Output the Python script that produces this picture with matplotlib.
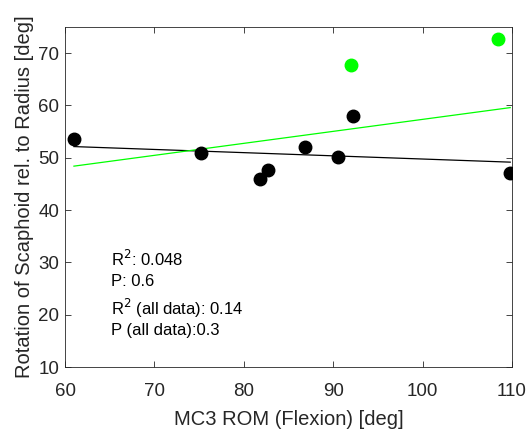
import matplotlib
matplotlib.use("Agg")
from matplotlib import pyplot as plt
import numpy as np

plt.rcParams['font.family'] = ['Liberation Sans', 'DejaVu Sans']

# datos
rom_x = np.array([61.0, 75.25, 81.8, 82.7, 86.8, 90.5, 92.2, 109.8])
rot_y = np.array([53.5, 51.0, 45.9, 47.6, 52.1, 50.2, 58.0, 47.1])
outlier_x = np.array([92.0, 108.4])
outlier_y = np.array([67.8, 72.8])

stats_text = ["R$^2$: 0.048", "P: 0.6", "R$^2$ (all data): 0.14", "P (all data):0.3"]

gray = '#262626'

fig = plt.figure(figsize=(5.27, 4.33), dpi=100)
ax = fig.add_axes([65/527, 1 - 367/433, (512 - 65)/527, (367 - 27)/433])

# ajuste sin outliers (negro) y con todos los datos (verde)
p = np.polyfit(rom_x, rot_y, 1)
all_x = np.concatenate([rom_x, outlier_x])
all_y = np.concatenate([rot_y, outlier_y])
p_all = np.polyfit(all_x, all_y, 1)
xx = np.array([rom_x.min(), rom_x.max()])
ax.plot(xx, np.polyval(p, xx), color='black', lw=0.9, zorder=2)
ax.plot(xx, np.polyval(p_all, xx), color='#00ff00', lw=0.9, zorder=2)

ax.plot(rom_x, rot_y, 'o', color='black', ms=9, zorder=3)
ax.plot(outlier_x, outlier_y, 'o', color='#00ff00', ms=9, zorder=3)

ax.set_xlim(60, 110)
ax.set_ylim(10, 75)
ax.set_xticks(np.arange(60, 111, 10))
ax.set_yticks(np.arange(10, 71, 10))
ax.tick_params(direction='in', top=True, right=True, length=4, width=0.6,
               colors=gray, labelsize=13.5, labelcolor=gray)
ax.tick_params(axis='x', pad=11.5)
ax.tick_params(axis='y', pad=4)
for s in ax.spines.values():
    s.set_color(gray)
    s.set_linewidth(0.6)

ax.set_xlabel('MC3 ROM (Flexion) [deg]', fontsize=14.5, color=gray, labelpad=7)
ax.set_ylabel('Rotation of Scaphoid rel. to Radius [deg]', fontsize=14.5, color=gray, labelpad=3)

ys = [259, 281, 308, 330]
for t, yp in zip(stats_text, ys):
    fig.text(111/527, 1 - yp/433, t, fontsize=12, va='center', ha='left', color='black')

plt.savefig('out.png', dpi=100)
